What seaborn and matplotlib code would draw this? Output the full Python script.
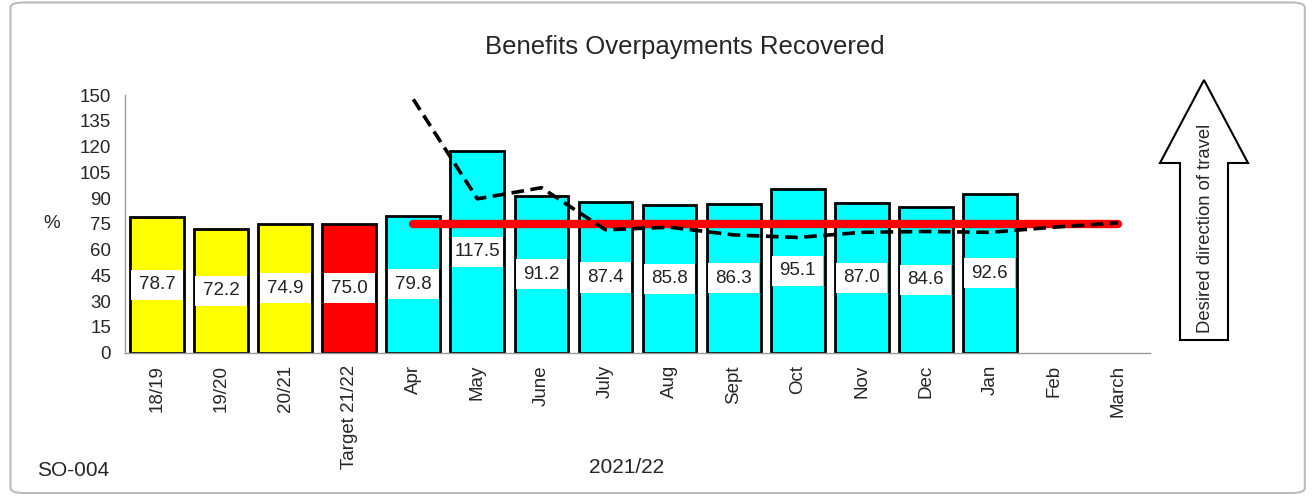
import numpy as np
import pandas as pd
import seaborn as sns
import matplotlib.pyplot as plt
from matplotlib.patches import Polygon, FancyBboxPatch

# chart data
categories = ['18/19', '19/20', '20/21', 'Target 21/22', 'Apr', 'May', 'June', 'July',
              'Aug', 'Sept', 'Oct', 'Nov', 'Dec', 'Jan', 'Feb', 'March']
values = [78.7, 72.2, 74.9, 75.0, 79.8, 117.5, 91.2, 87.4, 85.8, 86.3, 95.1, 87.0, 84.6, 92.6,
          np.nan, np.nan]
bar_colors = ['#FFFF00', '#FFFF00', '#FFFF00', '#FF0000'] + ['#00FFFF'] * 12
cumulative = [np.nan, np.nan, np.nan, np.nan, 147.5, 89.5, 96.0, 71.5, 73.0, 68.5, 67.0, 70.0,
              70.5, 70.0, 73.0, 75.5]
target = [np.nan, np.nan, np.nan, np.nan] + [75.0] * 12

df = pd.DataFrame({'cat': categories, 'val': values})

sns.set_style('white')
plt.rcParams['font.family'] = ['Liberation Sans', 'DejaVu Sans']

fig = plt.figure(figsize=(13.14, 4.98), dpi=100)
ax = fig.add_axes([125 / 1314, 1 - 352.5 / 498, 1025 / 1314, 257.5 / 498])

sns.barplot(data=df, x='cat', y='val', hue='cat', palette=bar_colors, legend=False,
            width=0.84, edgecolor='black', linewidth=2, saturation=1, ax=ax)

# white label bands in the middle of each bar (inside the outline)
x = np.arange(len(categories))
vals = np.array(values)
band = 17.5
mask = ~np.isnan(vals)
ax.bar(x[mask], band, bottom=vals[mask] / 2 - band / 2, width=0.80, color='white',
       linewidth=0, zorder=3)
for xi, v in zip(x[mask], vals[mask]):
    ax.text(xi, v / 2, f'{v:.1f}', ha='center', va='center', fontsize=13.5, color='#222222',
            zorder=4)

ax.plot(x, target, color='#FF0000', linewidth=6, solid_capstyle='round', zorder=5)
ax.plot(x, cumulative, color='black', linewidth=2.6, linestyle=(0, (3.5, 1.8)), zorder=6)

ax.set_xlim(-0.5, len(categories) - 0.5)
ax.set_ylim(0, 150)
ax.set_yticks(np.arange(0, 151, 15))
ax.set_xticks(x)
ax.set_xticklabels(categories, rotation=90, fontsize=13.5)
ax.set_xticks(np.arange(-0.5, len(categories), 1), minor=True)
ax.tick_params(axis='x', which='major', length=0, pad=9)
ax.tick_params(axis='x', which='minor', length=4, color='#999999', width=1, direction='out')
ax.tick_params(axis='y', length=4, color='#999999', width=1, direction='out', labelsize=13.5,
               pad=6)
for s in ['top', 'right']:
    ax.spines[s].set_visible(False)
for s in ['left', 'bottom']:
    ax.spines[s].set_color('#999999')
    ax.spines[s].set_linewidth(1)
ax.set_xlabel('')
ax.set_ylabel('%', rotation=0, fontsize=13.5, labelpad=20, va='center')

fig.text(685 / 1314, 1 - 47 / 498, 'Benefits Overpayments Recovered', ha='center', va='center',
         fontsize=18.5)
fig.text(73 / 1314, 1 - 470 / 498, 'SO-004', ha='center', va='center', fontsize=15)
fig.text(627 / 1314, 1 - 467 / 498, '2021/22', ha='center', va='center', fontsize=15)

# desired direction arrow
W, H = 1314, 498
pts = [(1160, 163), (1204, 80), (1248, 163), (1228, 163), (1228, 340), (1180, 340), (1180, 163)]
arrow = Polygon([(px / W, 1 - py / H) for px, py in pts], closed=True, facecolor='white',
                edgecolor='black', linewidth=1.5, transform=fig.transFigure)
fig.patches.append(arrow)
fig.text(1205 / W, 1 - 228 / H, 'Desired direction of travel', rotation=90, ha='center',
         va='center', fontsize=13.3)

border = FancyBboxPatch((0.008, 0.01), 0.985, 0.985, boxstyle='round,pad=0,rounding_size=0.01',
                        facecolor='none', edgecolor='#BBBBBB', linewidth=1.5,
                        transform=fig.transFigure)
fig.patches.append(border)

fig.savefig('out.png', dpi=100)
